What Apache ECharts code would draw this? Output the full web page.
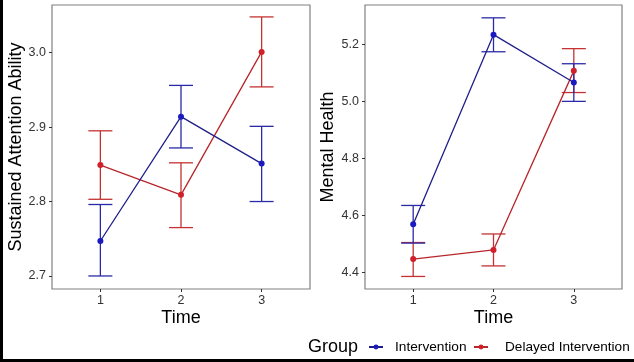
<!DOCTYPE html>
<html>
<head>
<meta charset="utf-8">
<script src="https://cdn.jsdelivr.net/npm/echarts@6/dist/echarts.min.js"></script>
<style>
html,body{margin:0;padding:0;background:#fff;}
#c{width:634px;height:362px;}
</style>
</head>
<body>
<div id="c"></div>
<script>
// ---- data ----
const times = [1, 2, 3];
const timeTicks = [1, 2, 3];
const attnTicks = [2.7, 2.8, 2.9, 3.0];
const mhTicks = [4.4, 4.6, 4.8, 5.0, 5.2];
const groups = ['Intervention', 'Delayed Intervention'];

const attnIntMean = [2.747, 2.914, 2.851];
const attnIntLow  = [2.700, 2.872, 2.800];
const attnIntHigh = [2.796, 2.956, 2.901];
const attnDelMean = [2.849, 2.809, 3.001];
const attnDelLow  = [2.803, 2.765, 2.954];
const attnDelHigh = [2.895, 2.852, 3.048];

const mhIntMean = [4.569, 5.234, 5.066];
const mhIntLow  = [4.503, 5.174, 5.000];
const mhIntHigh = [4.635, 5.293, 5.132];
const mhDelMean = [4.447, 4.479, 5.107];
const mhDelLow  = [4.386, 4.423, 5.031];
const mhDelHigh = [4.505, 4.535, 5.185];

// ---- styles ----
const FONT = "'Liberation Sans', Arial, Helvetica, sans-serif";
const BLUE_LINE = '#1f1f8c', BLUE_PT = '#1a1ac0', BLUE_BAR = '#2a2aa8';
const RED_LINE = '#b8262b', RED_PT = '#d0202a', RED_BAR = '#c43232';

function pts(means) { return times.map((t, i) => [t, means[i]]); }
function bars(lo, hi) { return times.map((t, i) => [t, lo[i], hi[i]]); }

function errRender(color) {
  return function (params, api) {
    const x = api.value(0), lo = api.value(1), hi = api.value(2);
    const a = api.coord([x, lo]), b = api.coord([x, hi]);
    const w = 12;
    const st = { stroke: color, lineWidth: 1.3 };
    return {
      type: 'group',
      children: [
        { type: 'line', shape: { x1: a[0], y1: a[1], x2: b[0], y2: b[1] }, style: st },
        { type: 'line', shape: { x1: a[0] - w, y1: a[1], x2: a[0] + w, y2: a[1] }, style: st },
        { type: 'line', shape: { x1: b[0] - w, y1: b[1], x2: b[0] + w, y2: b[1] }, style: st }
      ]
    };
  };
}

function xAxisCfg(gi) {
  return {
    gridIndex: gi, type: 'value', min: 0.4, max: 3.6,
    name: 'Time', nameLocation: 'middle', nameGap: 20, nameMoveOverlap: false,
    nameTextStyle: { fontFamily: FONT, fontSize: 18, color: '#000' },
    axisLine: { show: false },
    splitLine: { show: false },
    axisTick: { show: true, customValues: timeTicks, length: 3, lineStyle: { color: '#333', width: 1 } },
    axisLabel: { customValues: timeTicks, margin: 5, fontFamily: FONT, fontSize: 12.5, color: '#333' }
  };
}
function yAxisCfg(gi, name, min, max, ticks, gap) {
  return {
    gridIndex: gi, type: 'value', min: min, max: max,
    name: name, nameLocation: 'middle', nameGap: gap,
    nameTextStyle: { fontFamily: FONT, fontSize: 18, color: '#000' },
    axisLine: { show: false },
    splitLine: { show: false },
    axisTick: { show: true, customValues: ticks, length: 3, lineStyle: { color: '#333', width: 1 } },
    axisLabel: { customValues: ticks, margin: 6, fontFamily: FONT, fontSize: 12.5, color: '#333',
      formatter: v => v.toFixed(1) }
  };
}

function lineSeries(name, gi, means, lc, pc) {
  return {
    name: name, type: 'line', xAxisIndex: gi, yAxisIndex: gi,
    data: pts(means), symbol: 'circle', symbolSize: 6,
    lineStyle: { color: lc, width: 1.3 }, itemStyle: { color: pc },
    animation: false, z: 3
  };
}
function errSeries(gi, lo, hi, color) {
  return {
    type: 'custom', xAxisIndex: gi, yAxisIndex: gi,
    data: bars(lo, hi), renderItem: errRender(color),
    encode: { x: 0, y: [1, 2] }, animation: false, z: 2, silent: true
  };
}

const chart = echarts.init(document.getElementById('c'), null, { renderer: 'canvas' });
chart.setOption({
  backgroundColor: '#fff',
  animation: false,
  grid: [
    { left: 52, right: 324, top: 5, bottom: 73, show: true, borderColor: '#808080', borderWidth: 1.2, backgroundColor: 'transparent' },
    { left: 365, right: 12, top: 5, bottom: 73, show: true, borderColor: '#808080', borderWidth: 1.2, backgroundColor: 'transparent' }
  ],
  xAxis: [xAxisCfg(0), xAxisCfg(1)],
  yAxis: [
    yAxisCfg(0, 'Sustained Attention Ability', 2.6825, 3.064, attnTicks, 27),
    yAxisCfg(1, 'Mental Health', 4.342, 5.338, mhTicks, 28)
  ],
  legend: [
    { data: [groups[0]], left: 368, top: 340, padding: 0, itemWidth: 14, itemHeight: 6, itemGap: 0,
      textStyle: { fontFamily: FONT, fontSize: 13.7, color: '#000', padding: [0, 0, 0, 7] }, selectedMode: false },
    { data: [groups[1]], left: 473, top: 340, padding: 0, itemWidth: 14, itemHeight: 6, itemGap: 0,
      textStyle: { fontFamily: FONT, fontSize: 13.6, color: '#000', padding: [0, 0, 0, 12] }, selectedMode: false }
  ],
  graphic: [
    { type: 'text', left: 308, top: 338, style: { text: 'Group', font: '18px ' + FONT, fill: '#000' } },
    { type: 'rect', left: 0, top: 0, shape: { width: 3, height: 362 }, style: { fill: '#000' } },
    { type: 'rect', left: 0, top: 359, shape: { width: 634, height: 3 }, style: { fill: '#000' } }
  ],
  series: [
    errSeries(0, attnDelLow, attnDelHigh, RED_BAR),
    errSeries(0, attnIntLow, attnIntHigh, BLUE_BAR),
    lineSeries(groups[1], 0, attnDelMean, RED_LINE, RED_PT),
    lineSeries(groups[0], 0, attnIntMean, BLUE_LINE, BLUE_PT),
    errSeries(1, mhDelLow, mhDelHigh, RED_BAR),
    errSeries(1, mhIntLow, mhIntHigh, BLUE_BAR),
    lineSeries(groups[1], 1, mhDelMean, RED_LINE, RED_PT),
    lineSeries(groups[0], 1, mhIntMean, BLUE_LINE, BLUE_PT)
  ]
});
</script>
</body>
</html>
